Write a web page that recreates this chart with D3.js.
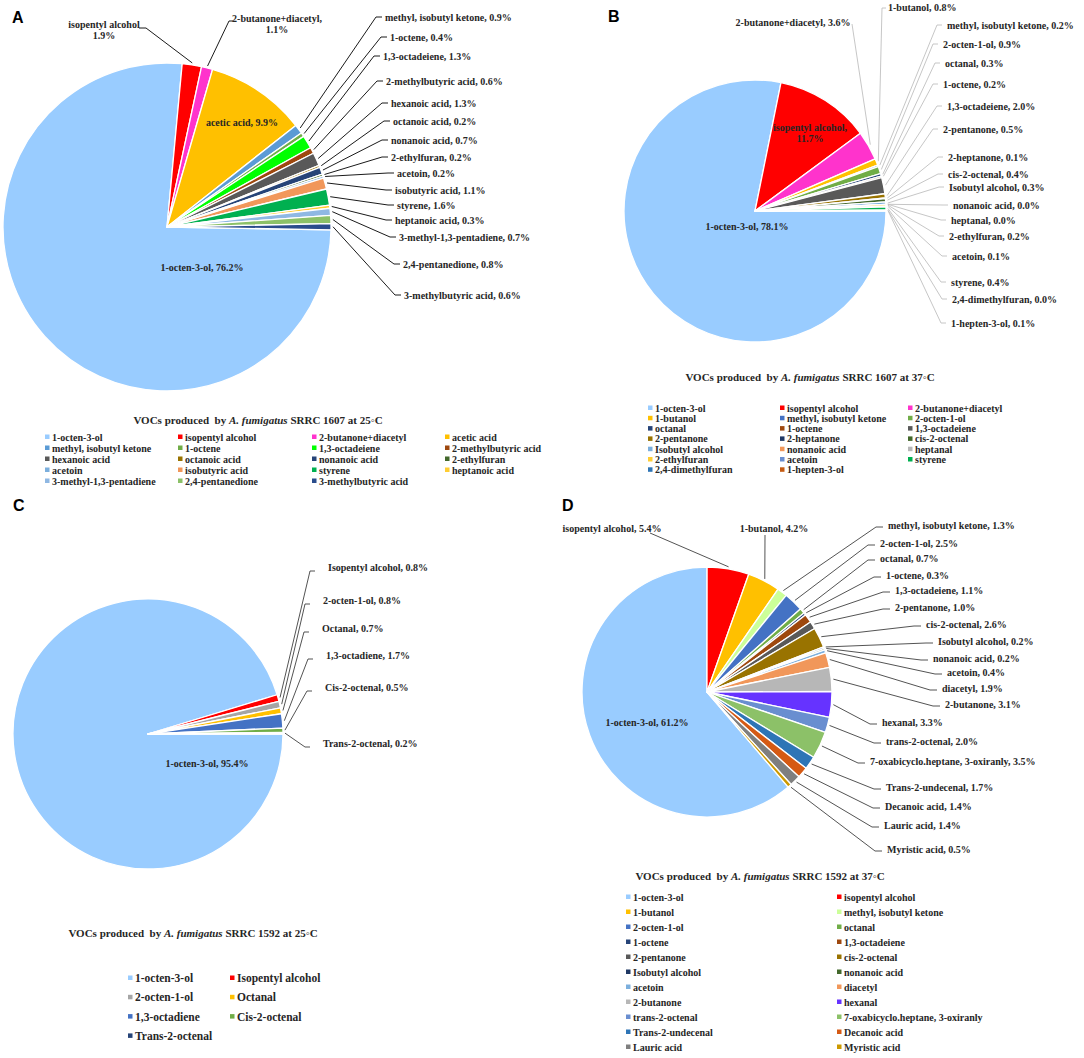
<!DOCTYPE html>
<html><head><meta charset="utf-8">
<script src="https://cdn.jsdelivr.net/npm/d3@7"></script>
<style>
body{margin:0;background:#fff;}
svg text{font-family:"Liberation Serif","Times New Roman",serif;fill:#262626;}
</style></head><body>
<svg id="chart" width="1084" height="1058"></svg>
<script>
// ---------- DATA ----------
const namesA = ['1-octen-3-ol','isopentyl alcohol','2-butanone+diacetyl','acetic acid','methyl, isobutyl ketone','1-octene','1,3-octadeiene','2-methylbutyric acid','hexanoic acid','octanoic acid','nonanoic acid','2-ethylfuran','acetoin','isobutyric acid','styrene','heptanoic acid','3-methyl-1,3-pentadiene','2,4-pentanedione','3-methylbutyric acid'];
const valuesA = [76.2,1.9,1.1,9.9,0.9,0.4,1.3,0.6,1.3,0.2,0.7,0.2,0.2,1.1,1.6,0.3,0.7,0.8,0.6];

const namesB = ['1-octen-3-ol','isopentyl alcohol','2-butanone+diacetyl','1-butanol','methyl, isobutyl ketone','2-octen-1-ol','octanal','1-octene','1,3-octadeiene','2-pentanone','2-heptanone','cis-2-octenal','Isobutyl alcohol','nonanoic acid','heptanal','2-ethylfuran','acetoin','styrene','2,4-dimethylfuran','1-hepten-3-ol'];
const valuesB = [78.1,11.7,3.6,0.8,0.2,0.9,0.3,0.2,2.0,0.5,0.1,0.4,0.3,0.0,0.0,0.2,0.1,0.4,0.0,0.1];

const namesC = ['1-octen-3-ol','Isopentyl alcohol','2-octen-1-ol','Octanal','1,3-octadiene','Cis-2-octenal','Trans-2-octenal'];
const valuesC = [95.4,0.8,0.8,0.7,1.7,0.5,0.2];

const namesD = ['1-octen-3-ol','isopentyl alcohol','1-butanol','methyl, isobutyl ketone','2-octen-1-ol','octanal','1-octene','1,3-octadeiene','2-pentanone','cis-2-octenal','Isobutyl alcohol','nonanoic acid','acetoin','diacetyl','2-butanone','hexanal','trans-2-octenal','7-oxabicyclo.heptane, 3-oxiranly','Trans-2-undecenal','Decanoic acid','Lauric acid','Myristic acid'];
const valuesD = [61.2,5.4,4.2,1.3,2.5,0.7,0.3,1.1,1.0,2.6,0.2,0.2,0.4,1.9,3.1,3.3,2.0,3.5,1.7,1.4,1.4,0.5];

const titleStrain = ['SRRC 1607 at 25\u25E6C','SRRC 1607 at 37\u25E6C','SRRC 1592 at 25\u25E6C','SRRC 1592 at 37\u25E6C'];
const panelLetters = ['A','B','C','D'];

// ---------- STYLES ----------
const colorsA = ['#99CCFF','#FF0000','#FF33CC','#FFC000','#5B9BD5','#70AD47','#00FF00','#9E480E','#595959','#997300','#264478','#43682B','#7CAFDD','#F1975A','#00B050','#FFCD33','#8FB8E3','#8CC168','#2A4C8C'];
const colorsB = ['#99CCFF','#FF0000','#FF33CC','#FFC000','#4472C4','#70AD47','#264478','#9E480E','#595959','#997300','#1F3864','#43682B','#7CAFDD','#F1975A','#B7B7B7','#FFCD33','#698ED0','#00B050','#2E75B6','#C55A11'];
const colorsC = ['#99CCFF','#FF0000','#A5A5A5','#FFC000','#4472C4','#70AD47','#264478'];
const colorsD = ['#99CCFF','#FF0000','#FFC000','#CCFF99','#4472C4','#70AD47','#264478','#9E480E','#595959','#997300','#1F3864','#43682B','#7CAFDD','#F1975A','#B7B7B7','#6633FF','#698ED0','#8CC168','#2E75B6','#D55A14','#7F7F7F','#CC9900'];

// label layout (positions of text, not marks)
const labelPosA = [
 {x:202,y:267,mode:'in'},
 {x:104,y:24,anchor:'middle',split:true,ex:146,ey:28,tx:139},
 {x:277,y:18,anchor:'middle',split:true,comma:true,ex:229,ey:21,tx:233},
 {x:242,y:122,mode:'in'},
 {x:385,y:17},{x:390,y:37},{x:383,y:56},{x:386,y:81},{x:391,y:103},{x:393,y:121},{x:391,y:140},{x:391,y:157},{x:397,y:173},{x:395,y:190},{x:397,y:205},{x:395,y:220},{x:399,y:237},{x:403,y:264},{x:404,y:295}
];
const labelPosB = [
 {x:747,y:226,mode:'in'},
 {x:810,y:127,mode:'in',split:true,comma:true},
 {x:793,y:22,anchor:'middle',ex:852,ey:24,tx:852},
 {x:888,y:7,ex:882,ey:8,tx:886},
 {x:947,y:25},{x:943,y:44},{x:945,y:63},{x:943,y:84},{x:947,y:106},{x:943,y:129},{x:948,y:157},{x:948,y:174},{x:949,y:187},{x:953,y:205},{x:951,y:220},{x:949,y:236},{x:952,y:256},{x:951,y:282},{x:952,y:299},{x:951,y:323}
];
const labelPosC = [
 {x:207,y:763,mode:'in'},
 {x:328,y:567},{x:323,y:600},{x:322,y:628},{x:326,y:655},{x:325,y:687},{x:323,y:743}
];
const labelPosD = [
 {x:647,y:722,mode:'in'},
 {x:612,y:528,anchor:'middle',ex:650,ey:533,tx:650},
 {x:774,y:528,anchor:'middle',ex:765,ey:535,tx:765},
 {x:888,y:525},{x:880,y:543},{x:880,y:558},{x:886,y:575},{x:895,y:590},{x:895,y:607},{x:926,y:624},{x:938,y:641},{x:933,y:658},{x:947,y:672},{x:942,y:688},{x:945,y:704},{x:882,y:722},{x:886,y:741},{x:870,y:761},{x:886,y:787},{x:885,y:806},{x:884,y:825},{x:887,y:849}
];

const panels = [
 {names:namesA, values:valuesA, colors:colorsA, labels:labelPosA, cx:167, cy:227, r:164, rot:91,
  lineColor:'#000', elbowDx:-9, tickDx:-3, elbowDy:0,
  title:{x:258,y:420}, letter:{x:12,y:23},
  legend:{cols:[45,178,312,445], y0:437, dy:11, fs:10}},
 {names:namesB, values:valuesB, colors:colorsB, labels:labelPosB, cx:755, cy:211, r:131, rot:90,
  lineColor:'#BFBFBF', elbowDx:-10, tickDx:-5, elbowDy:0,
  title:{x:810,y:377}, letter:{x:608,y:22},
  legend:{cols:[648,780,908], y0:408, dy:10.3, fs:10}},
 {names:namesC, values:valuesC, colors:colorsC, labels:labelPosC, cx:148, cy:734, r:135, rot:90,
  lineColor:'#404040', elbowDx:-18, tickDx:-13, elbowDy:4,
  title:{x:193,y:933}, letter:{x:13,y:511},
  legend:{cols:[128,230], y0:978, dy:19.3, fs:11.5}},
 {names:namesD, values:valuesD, colors:colorsD, labels:labelPosD, cx:707, cy:692, r:125, rot:139.5,
  lineColor:'#404040', elbowDx:-12, tickDx:-5, elbowDy:2,
  title:{x:760,y:876}, letter:{x:562,y:511},
  legend:{cols:[626,837], y0:897, dy:15, fs:10}}
];

// ---------- DRAW ----------
const svg = d3.select('#chart');
const deg = Math.PI/180;
const FS = 10;

panels.forEach((p, pi) => {
  const g = svg.append('g');
  const color = d3.scaleOrdinal().domain(p.names).range(p.colors);
  const pie = d3.pie().sort(null).value(d => d)
      .startAngle(p.rot*deg).endAngle(p.rot*deg + 2*Math.PI);
  const arcs = pie(p.values);
  const arc = d3.arc().innerRadius(0).outerRadius(p.r);

  const pg = g.append('g').attr('transform', `translate(${p.cx},${p.cy})`);
  pg.selectAll('path').data(arcs).join('path')
    .attr('d', arc)
    .attr('fill', (d,i) => color(p.names[i]))
    .attr('stroke', '#fff').attr('stroke-width', 1.3).attr('stroke-linejoin','round');

  // labels with leader lines
  arcs.forEach((a, i) => {
    const L = p.labels[i]; if (!L) return;
    const name = p.names[i];
    const pct = p.values[i].toFixed(1) + '%';
    const lines = L.split ? [name + (L.comma ? ',' : ''), pct] : [name + ', ' + pct];
    if (L.mode !== 'in') {
      const mid = (a.startAngle + a.endAngle) / 2;
      const R = p.r + 2;
      const sx = p.cx + R*Math.sin(mid), sy = p.cy - R*Math.cos(mid);
      const ex = L.ex !== undefined ? L.ex : L.x + p.elbowDx;
      const ey = L.ey !== undefined ? L.ey : L.y + p.elbowDy;
      const tx = L.tx !== undefined ? L.tx : L.x + p.tickDx;
      g.append('path')
        .attr('d', d3.line()([[sx,sy],[ex,ey],[tx,ey]]))
        .attr('fill','none').attr('stroke', p.lineColor).attr('stroke-width', 0.9);
    }
    const t = g.append('text')
      .attr('x', L.x).attr('y', L.y)
      .attr('text-anchor', (L.mode === 'in' || L.anchor === 'middle') ? 'middle' : 'start')
      .attr('font-size', FS).attr('font-weight','bold');
    lines.forEach((s, k) => {
      t.append('tspan').attr('x', L.x).attr('y', L.y + k*11).attr('dy','0.35em').text(s);
    });
  });

  // panel letter
  svg.append('text').attr('x', p.letter.x).attr('y', p.letter.y)
    .style('font-family','"Liberation Sans", Arial, sans-serif')
    .style('fill','#000')
    .attr('font-size', 16).attr('font-weight','bold').text(panelLetters[pi]);

  // title
  const tt = svg.append('text').attr('x', p.title.x).attr('y', p.title.y).attr('dy','0.35em')
    .attr('text-anchor','middle').attr('font-size', 11).attr('font-weight','bold');
  tt.append('tspan').text('VOCs produced \u00A0by ');
  tt.append('tspan').attr('font-style','italic').text('A. fumigatus');
  tt.append('tspan').text(' ' + titleStrain[pi]);

  // legend
  const nc = p.legend.cols.length;
  const lg = svg.append('g');
  const items = lg.selectAll('g').data(p.names).join('g')
    .attr('transform', (d,i) => `translate(${p.legend.cols[i % nc]},${p.legend.y0 + Math.floor(i / nc)*p.legend.dy})`);
  items.append('rect').attr('x',0).attr('y',-2.5).attr('width',4.5).attr('height',4.5)
    .attr('fill', d => color(d));
  items.append('text').attr('x',7).attr('y',0).attr('dy','0.35em')
    .attr('font-size', p.legend.fs).attr('font-weight','bold').text(d => d);
});
</script></body></html>
